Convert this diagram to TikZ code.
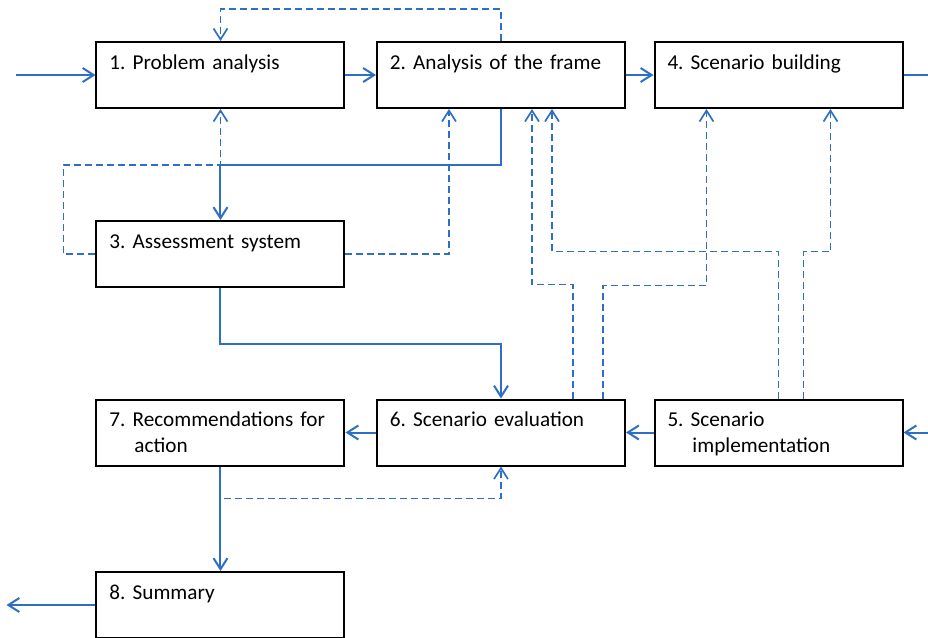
\documentclass[tikz,border=0pt]{standalone}
\usepackage{fontspec}
\setmainfont{Carlito}
\frenchspacing
\usetikzlibrary{arrows.meta}
\definecolor{flowblue}{RGB}{46,111,196}
\tikzstyle{stage} = [rectangle,
minimum width=124pt,
minimum height=33pt,
text width=111pt,
inner xsep=6.5pt,
text height=8pt,
text depth=14pt,
align=left,
draw=black,line width=1pt,
font=\fontsize{10.6}{13}\selectfont]
\tikzstyle{arrow} = [flowblue,line width=1pt,-{Straight Barb[length=5.5pt,width=7pt]}]
\tikzstyle{link} = [flowblue,line width=1pt]
\tikzstyle{feedback} = [flowblue,line width=0.85pt,dash pattern=on 3.5pt off 2pt,-{Straight Barb[length=5.5pt,width=7pt]}]

\begin{document}
\begin{tikzpicture}[node distance=89.5pt]
\useasboundingbox (-110.25pt,37.5pt) rectangle (353.75pt,-281.5pt);

\node (prob) [stage] {1. Problem analysis};
\node (frame) [stage, node distance=140.25pt, right of=prob] {\mbox{2. Analysis of the frame}};
\node (build) [stage, node distance=138.75pt, right of=frame] {4. Scenario building};
\node (assess) [stage, below of=prob] {3. Assessment system};
\node (recom) [stage, node distance=89.25pt, below of=assess] {\mbox{7. Recommendations for}\\\hspace*{12.5pt}action};
\node (eval) [stage, node distance=140.25pt, right of=recom] {6. Scenario evaluation};
\node (impl) [stage, node distance=138.75pt, right of=eval] {5. Scenario\\\hspace*{12.5pt}implementation};
\node (summ) [stage, node distance=86.25pt, below of=recom] {8. Summary};

\coordinate (inL) at ([xshift=-39.5pt]prob.west);
\coordinate (outR) at ([xshift=13pt]build.east);
\coordinate (inR) at ([xshift=14pt]impl.east);
\coordinate (outL) at ([xshift=-44.5pt]summ.west);

% main flow
\draw [arrow] (inL) -- (prob);
\draw [arrow] (prob) -- (frame);
\draw [arrow] (frame) -- (build);
\draw [link] (build) -- (outR);
\draw [arrow] (frame.south) -- ++(0,-28pt) -| (assess.north);
\draw [arrow] (assess.south) -- ++(0,-28pt) -| (eval.north);
\draw [arrow] (inR) -- (impl);
\draw [arrow] (impl) -- (eval);
\draw [arrow] (eval) -- (recom);
\draw [arrow] (recom) -- (summ);
\draw [arrow] (summ) -- (outL);

% feedback loops
\draw [feedback] (frame.north) -- ++(0,16pt) -| (prob.north);
\draw [feedback] (assess.west) -- ++(-16pt,0) |- ([yshift=-28pt]prob.south) -- (prob.south);
\draw [feedback] (assess.east) -| ([xshift=-26pt]frame.south);
\draw [feedback] ([xshift=36pt]eval.north) -- ++(0,57pt) -| ([xshift=15.5pt]frame.south);
\draw [feedback] ([xshift=51pt]eval.north) -- ++(0,56.5pt) -| ([xshift=-36pt]build.south);
\draw [feedback] (impl.north) -- ++(0,73.5pt) -| ([xshift=25.5pt]frame.south);
\draw [feedback] ([xshift=12.5pt]impl.north) -- ++(0,73.5pt) -| ([xshift=26pt]build.south);
\draw [feedback] ([xshift=2pt,yshift=-16pt]recom.south) -| (eval.south);

\end{tikzpicture}
\end{document}
